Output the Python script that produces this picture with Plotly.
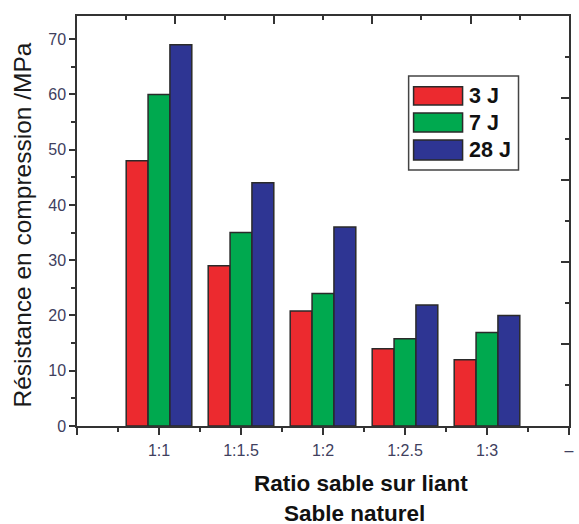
import plotly.graph_objects as go

# ---- data ----
categories = ["1:1", "1:1.5", "1:2", "1:2.5", "1:3"]
series_names = ["3 J", "7 J", "28 J"]
values_3j = [48, 29, 20.8, 14, 12]
values_7j = [60, 35, 24, 15.8, 16.9]
values_28j = [69, 44, 36, 21.9, 20]
series_colors = ["#ec2a2f", "#00a94f", "#2e3593"]
y_ticks = [0, 10, 20, 30, 40, 50, 60, 70]

series_values = [values_3j, values_7j, values_28j]
x_pos = list(range(1, len(categories) + 1))

W, H = 579, 524
L, R, T, B = 77, 574, 16, 426


def px(xp):
    return (xp - L) / (R - L)


def py(yp):
    return (B - yp) / (B - T)


fig = go.Figure()
for name, vals, col in zip(series_names, series_values, series_colors):
    fig.add_trace(go.Bar(
        x=x_pos, y=vals, name=name, marker=dict(color=col, line=dict(color="#2a2a2a", width=1.5)),
        showlegend=False,
    ))

# invisible trace so that the top/right frame axes exist
fig.add_trace(go.Scatter(x=[0, 5], y=[0, 5], xaxis="x2", yaxis="y2", mode="markers",
                         marker=dict(opacity=0), showlegend=False, hoverinfo="skip"))

tick_font = dict(family="Liberation Sans, Arial, sans-serif", size=16, color="#40405e")
line_col = "#333333"

fig.update_layout(
    width=W, height=H,
    margin=dict(l=L, r=W - R, t=T, b=H - B),
    paper_bgcolor="white", plot_bgcolor="white",
    barmode="group", bargap=0.2, bargroupgap=0,
    xaxis=dict(
        range=[0, 6], tickmode="array",
        tickvals=[0] + x_pos + [6], ticktext=[""] + categories + ["–"],
        ticks="outside", ticklen=7, tickwidth=1.5, tickcolor=line_col,
        showline=True, mirror=True, linecolor=line_col, linewidth=1.5, showgrid=False, zeroline=False,
        tickfont=tick_font, ticklabelstandoff=2,
        minor=dict(tickvals=[p - 0.5 for p in x_pos] + [5.5], ticks="outside", ticklen=4,
                   tickwidth=1.5, tickcolor=line_col),
    ),
    yaxis=dict(
        range=[0, 74.2], tickmode="array", tickvals=y_ticks,
        ticks="outside", ticklen=6, tickwidth=1.5, tickcolor=line_col,
        showline=True, mirror=True, linecolor=line_col, linewidth=1.5, showgrid=False, zeroline=False,
        tickfont=tick_font,
        minor=dict(tickvals=[v + 5 for v in y_ticks], ticks="outside", ticklen=4,
                   tickwidth=1.5, tickcolor=line_col),
    ),
    xaxis2=dict(
        overlaying="x", side="top", anchor="y", range=[0, 5], tickmode="array", tickvals=[1, 2, 3, 4],
        ticks="inside", ticklen=8, tickwidth=1.8, tickcolor=line_col, showticklabels=False,
        showline=True, linecolor=line_col, linewidth=2, showgrid=False, zeroline=False,
        minor=dict(tickvals=[0.5, 1.5, 2.5, 3.5, 4.5], ticks="inside", ticklen=4,
                   tickwidth=1.8, tickcolor=line_col),
    ),
    yaxis2=dict(
        overlaying="y", side="right", anchor="x", range=[0, 5], tickmode="array", tickvals=[1, 2, 3, 4],
        ticks="inside", ticklen=8, tickwidth=1.8, tickcolor=line_col, showticklabels=False,
        showline=True, linecolor=line_col, linewidth=2, showgrid=False, zeroline=False,
        minor=dict(tickvals=[0.5, 1.5, 2.5, 3.5, 4.5], ticks="inside", ticklen=4,
                   tickwidth=1.8, tickcolor=line_col),
    ),
)

font_family = "Liberation Sans, Arial, sans-serif"
# axis titles
fig.add_annotation(text="Résistance en compression /MPa", xref="paper", yref="paper",
                   x=px(21), y=py(225), xanchor="center", yanchor="middle", textangle=-90,
                   showarrow=False, font=dict(family=font_family, size=24.5, color="#1a1a1a"))
fig.add_annotation(text="<b>Ratio sable sur liant</b>", xref="paper", yref="paper",
                   x=px(364), y=py(483), xanchor="center", yanchor="middle", showarrow=False,
                   font=dict(family=font_family, size=22.5, color="#111111"))
fig.add_annotation(text="<b>Sable naturel</b>", xref="paper", yref="paper",
                   x=px(357), y=py(513), xanchor="center", yanchor="middle", showarrow=False,
                   font=dict(family=font_family, size=22.5, color="#111111"))

# custom legend
fig.add_shape(type="rect", xref="paper", yref="paper", x0=px(412), x1=px(523), y0=py(170), y1=py(76),
              line=dict(color="#444444", width=1.5), fillcolor="white")
sw_rows = [(86.7, 105), (113, 132), (140, 160)]
for (ytop, ybot), name, col in zip(sw_rows, series_names, series_colors):
    fig.add_shape(type="rect", xref="paper", yref="paper", x0=px(417), x1=px(466.5),
                  y0=py(ybot), y1=py(ytop), line=dict(color="#2a2a2a", width=1.5), fillcolor=col)
    fig.add_annotation(text="<b>" + name + "</b>", xref="paper", yref="paper",
                       x=px(471), y=py((ytop + ybot) / 2), xanchor="left", yanchor="middle",
                       showarrow=False, font=dict(family=font_family, size=21.5, color="#111111"))

fig.write_html("out.html", config={"displayModeBar": False},
               post_script="document.body.style.margin='0';document.body.style.overflow='hidden';")
